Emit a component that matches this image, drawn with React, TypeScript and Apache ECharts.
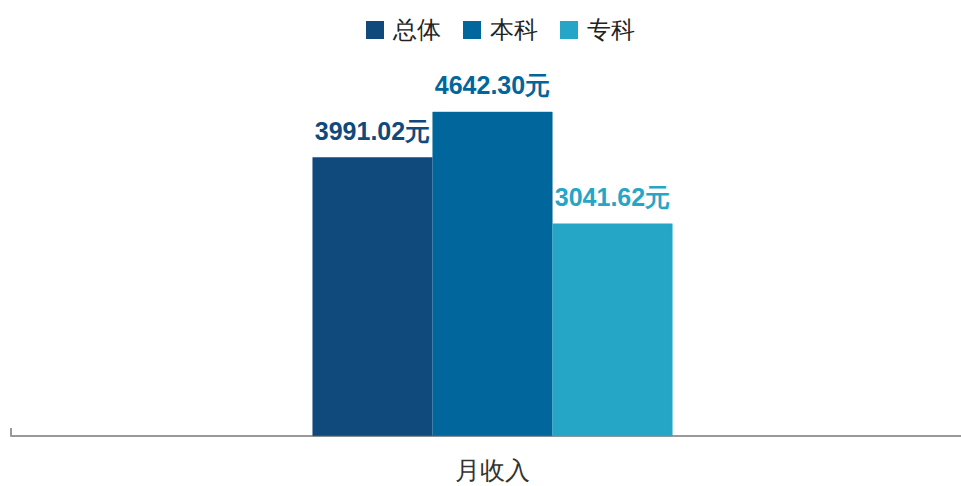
import React, { useEffect, useRef } from "react";
import * as echarts from "echarts";

const categories = ["月收入"];
const seriesNames = ["总体", "本科", "专科"];
const seriesValues = [[3991.02], [4642.3], [3041.62]];
const colors = ["#10497B", "#00669B", "#25A6C6"];

export default function App() {
  const ref = useRef<HTMLDivElement>(null);
  useEffect(() => {
    const chart = echarts.init(ref.current!, null, { renderer: "svg" });
    chart.setOption({
      animation: false,
      color: colors,
      legend: {
        top: 13,
        left: 361,
        itemWidth: 16,
        itemHeight: 16,
        itemGap: 22,
        icon: "rect",
        textStyle: { fontSize: 24, color: "#222", fontFamily: "serif", padding: [0, 0, 0, 5] },
        data: seriesNames,
      },
      grid: {
        left: 11,
        right: -13,
        top: 17,
        bottom: 50,
        containLabel: false,
        outerBoundsMode: "none",
      },
      xAxis: {
        type: "category",
        data: categories,
        axisLine: { lineStyle: { color: "#999", width: 2 } },
        axisTick: { show: true, inside: true, length: 8, lineStyle: { color: "#999", width: 2 } },
        axisLabel: { fontSize: 25, color: "#333", fontFamily: "serif", margin: 22 },
      },
      yAxis: {
        type: "value",
        min: 0,
        max: 6000,
        show: false,
        splitLine: { show: false },
      },
      series: seriesNames.map((name, i) => ({
        name,
        type: "bar",
        data: seriesValues[i],
        barWidth: 120,
        barGap: "0%",
        itemStyle: { color: colors[i], borderColor: colors[i], borderWidth: 0.5 },
        label: {
          show: true,
          position: "top",
          distance: 14,
          formatter: (p: any) => `${p.value.toFixed(2)}元`,
          fontSize: 25,
          fontWeight: "bold",
          color: colors[i],
          fontFamily: "Liberation Sans, Arial, sans-serif",
        },
      })),
    });
    return () => chart.dispose();
  }, []);
  return (
    <div
      ref={ref}
      style={{ position: "absolute", left: 0, top: 0, width: 961, height: 486 }}
    />
  );
}
